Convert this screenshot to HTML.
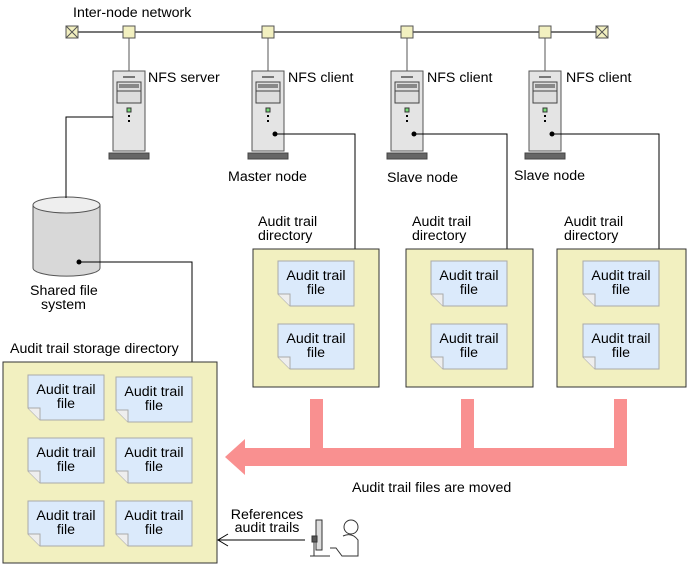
<!DOCTYPE html><html><head><style>body{margin:0;background:#fff}svg{display:block}text{font-family:"Liberation Sans",sans-serif;font-size:14.2px;fill:#000}</style></head><body>
<svg width="687" height="567" viewBox="0 0 687 567">
<defs>
<g id="srv">
<rect x="-16" y="0" width="32" height="80" fill="#e4e4e4" stroke="#555"/>
<line x1="-6" y1="6" x2="6" y2="6" stroke="#777" stroke-width="2"/>
<rect x="-12" y="11" width="24" height="9" fill="#ddd" stroke="#444"/>
<rect x="-10" y="13" width="20" height="4" fill="#888"/>
<rect x="-12" y="20" width="24" height="12" fill="#ddd" stroke="#444"/>
<rect x="-2" y="37" width="4" height="4" fill="#7d7" stroke="#333"/>
<rect x="-1" y="44" width="2" height="2" fill="#000"/>
<rect x="-1" y="49" width="2" height="2" fill="#000"/>
<rect x="-20" y="82" width="40" height="6" fill="#666" stroke="#444"/>
</g>
<g id="file">
<path d="M0 0H76V45H12L0 33Z" fill="#dbeafb" stroke="#aaa"/>
<path d="M0 33H12V45" fill="#eee" stroke="#aaa"/>
</g>
</defs>
<text x="73" y="17">Inter-node network</text>
<line x1="72" y1="32" x2="602" y2="32" stroke="#777" stroke-width="2"/>
<g stroke="#555" fill="#f2f0c0">
<rect x="66" y="26" width="12" height="12"/><path d="M66 26L78 38M78 26L66 38"/>
<rect x="596" y="26" width="12" height="12"/><path d="M596 26L608 38M608 26L596 38"/>
<rect x="123" y="26" width="12" height="12"/><rect x="262" y="26" width="12" height="12"/>
<rect x="401" y="26" width="12" height="12"/><rect x="539" y="26" width="12" height="12"/>
</g>
<g stroke="#555"><line x1="129" y1="38" x2="129" y2="71"/><line x1="268" y1="38" x2="268" y2="71"/><line x1="407" y1="38" x2="407" y2="71"/><line x1="545" y1="38" x2="545" y2="71"/></g>
<use href="#srv" x="129" y="71"/><use href="#srv" x="268" y="71"/><use href="#srv" x="407" y="71"/><use href="#srv" x="545" y="71"/>
<text x="148" y="82">NFS server</text><text x="288" y="82">NFS client</text><text x="427" y="82">NFS client</text><text x="566" y="82">NFS client</text>
<text x="228" y="181">Master node</text><text x="387" y="182">Slave node</text><text x="514" y="180">Slave node</text>
<path d="M33 205V268A33 8 0 0 0 100 268V205" fill="#d8d8d8" stroke="#555"/>
<ellipse cx="66.5" cy="205" rx="33.5" ry="8" fill="#eee" stroke="#555"/>
<g fill="none" stroke="#000">
<path d="M113 117H66V198"/>
<path d="M275 134H355V250"/><path d="M414 134H507V250"/><path d="M552 134H659V250"/>
<path d="M79 262H192V362"/>
</g>
<g fill="#000"><circle cx="275" cy="134" r="2.5"/><circle cx="414" cy="134" r="2.5"/><circle cx="552" cy="134" r="2.5"/><circle cx="79" cy="262" r="2.5"/></g>
<text x="30" y="295">Shared file</text><text x="41" y="309">system</text>
<g fill="#f2f0c0" stroke="#333"><rect x="253" y="249" width="126" height="138"/><rect x="406" y="249" width="127" height="138"/><rect x="557" y="249" width="129" height="138"/><rect x="3" y="362" width="214" height="201"/></g>
<text x="258" y="226">Audit trail</text><text x="258" y="240">directory</text>
<text x="412" y="226">Audit trail</text><text x="412" y="240">directory</text>
<text x="564" y="226">Audit trail</text><text x="564" y="240">directory</text>
<text x="10" y="353">Audit trail storage directory</text>
<use href="#file" x="278" y="261"/><use href="#file" x="278" y="324"/>
<use href="#file" x="431" y="261"/><use href="#file" x="431" y="324"/>
<use href="#file" x="583" y="261"/><use href="#file" x="583" y="324"/>
<use href="#file" x="28" y="375"/><use href="#file" x="116" y="377"/>
<use href="#file" x="28" y="438"/><use href="#file" x="116" y="438"/>
<use href="#file" x="28" y="501"/><use href="#file" x="116" y="501"/>
<g text-anchor="middle">
<text x="316" y="280">Audit trail</text><text x="316" y="294">file</text>
<text x="316" y="343">Audit trail</text><text x="316" y="357">file</text>
<text x="469" y="280">Audit trail</text><text x="469" y="294">file</text>
<text x="469" y="343">Audit trail</text><text x="469" y="357">file</text>
<text x="621" y="280">Audit trail</text><text x="621" y="294">file</text>
<text x="621" y="343">Audit trail</text><text x="621" y="357">file</text>
<text x="66" y="394">Audit trail</text><text x="66" y="408">file</text>
<text x="154" y="396">Audit trail</text><text x="154" y="410">file</text>
<text x="66" y="457">Audit trail</text><text x="66" y="471">file</text>
<text x="154" y="457">Audit trail</text><text x="154" y="471">file</text>
<text x="66" y="520">Audit trail</text><text x="66" y="534">file</text>
<text x="154" y="520">Audit trail</text><text x="154" y="534">file</text>
<text x="267" y="519">References</text><text x="267" y="532">audit trails</text>
</g>
<g fill="#f99090">
<rect x="310" y="399" width="13" height="52"/><rect x="461" y="399" width="13" height="52"/><rect x="614" y="399" width="13" height="67"/>
<rect x="245" y="448" width="382" height="18"/>
<path d="M225 457L245 439V475Z"/>
</g>
<text x="352" y="492">Audit trail files are moved</text>
<path d="M305 540H218M228 534L218 540L228 546" fill="none" stroke="#000"/>
<g stroke="#333" fill="#fff">
<rect x="316" y="520" width="6" height="30" fill="#ddd"/><rect x="312" y="536" width="5" height="6" fill="#555"/>
<line x1="314" y1="542" x2="314" y2="556"/><line x1="310" y1="556" x2="330" y2="556"/>
<circle cx="351" cy="527" r="7"/><path d="M343 536Q352 532 358 540V556H342L336 548H330" />
</g>
</svg></body></html>
